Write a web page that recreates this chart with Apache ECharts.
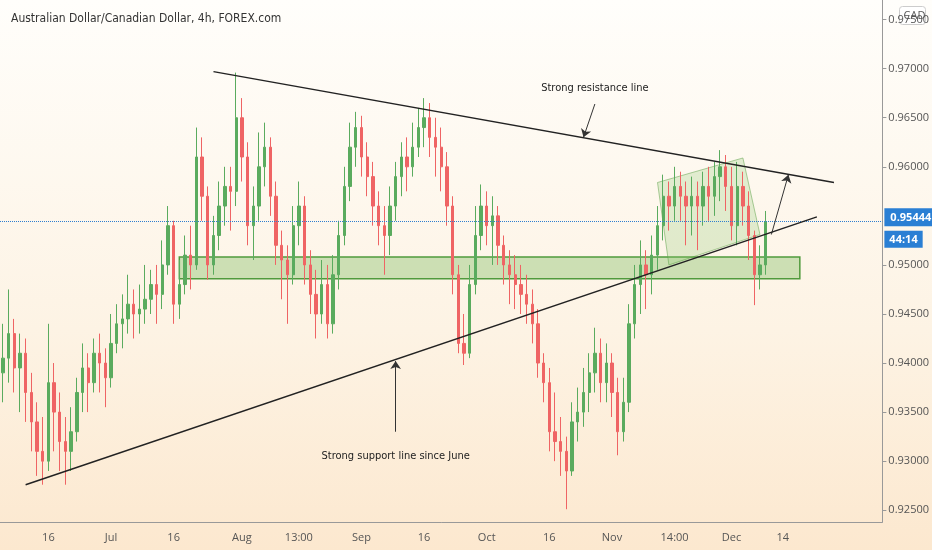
<!DOCTYPE html>
<html>
<head>
<meta charset="utf-8">
<script src="https://cdn.jsdelivr.net/npm/echarts@6/dist/echarts.min.js"></script>
<style>
  html, body { margin: 0; padding: 0; }
  body { background: linear-gradient(180deg, #fffefb 0%, #fdf3e4 60%, #fce8cf 100%); }
  #chart { width: 932px; height: 550px; }
</style>
</head>
<body>
<div id="chart"></div>
<script>
// [open, close, low, high], one candle per trading day from 2020-06-04
var candles = [
  [0.9390, 0.9405, 0.9360, 0.9440], [0.9405, 0.9430, 0.9380, 0.9475], [0.9430, 0.9395, 0.9370, 0.9445], [0.9395, 0.9410, 0.9350, 0.9430],
  [0.9410, 0.9370, 0.9340, 0.9425], [0.9370, 0.9340, 0.9310, 0.9390], [0.9340, 0.9310, 0.9285, 0.9360], [0.9310, 0.9300, 0.9276, 0.9345],
  [0.9300, 0.9380, 0.9290, 0.9440], [0.9380, 0.9350, 0.9310, 0.9400], [0.9350, 0.9320, 0.9290, 0.9370], [0.9320, 0.9310, 0.9276, 0.9345],
  [0.9310, 0.9330, 0.9290, 0.9355], [0.9330, 0.9370, 0.9320, 0.9385], [0.9370, 0.9395, 0.9350, 0.9420], [0.9395, 0.9380, 0.9350, 0.9410],
  [0.9380, 0.9410, 0.9370, 0.9425], [0.9410, 0.9400, 0.9370, 0.9430], [0.9400, 0.9385, 0.9355, 0.9415], [0.9385, 0.9420, 0.9375, 0.9450],
  [0.9420, 0.9440, 0.9410, 0.9460], [0.9440, 0.9445, 0.9415, 0.9470], [0.9445, 0.9460, 0.9430, 0.9490], [0.9460, 0.9450, 0.9425, 0.9475],
  [0.9450, 0.9455, 0.9430, 0.9480], [0.9455, 0.9465, 0.9440, 0.9500], [0.9465, 0.9480, 0.9450, 0.9495], [0.9480, 0.9470, 0.9440, 0.9500],
  [0.9470, 0.9500, 0.9455, 0.9525], [0.9500, 0.9540, 0.9490, 0.9560], [0.9540, 0.9460, 0.9440, 0.9545], [0.9460, 0.9480, 0.9445, 0.9505],
  [0.9480, 0.9510, 0.9470, 0.9530], [0.9510, 0.9500, 0.9475, 0.9540], [0.9500, 0.9610, 0.9495, 0.9640], [0.9610, 0.9570, 0.9545, 0.9630],
  [0.9570, 0.9500, 0.9485, 0.9580], [0.9500, 0.9530, 0.9490, 0.9550], [0.9530, 0.9560, 0.9515, 0.9585], [0.9560, 0.9580, 0.9540, 0.9600],
  [0.9580, 0.9575, 0.9535, 0.9600], [0.9575, 0.9650, 0.9560, 0.9696], [0.9650, 0.9610, 0.9585, 0.9670], [0.9610, 0.9540, 0.9520, 0.9625],
  [0.9540, 0.9560, 0.9505, 0.9580], [0.9560, 0.9600, 0.9545, 0.9635], [0.9600, 0.9620, 0.9580, 0.9645], [0.9620, 0.9570, 0.9550, 0.9630],
  [0.9570, 0.9520, 0.9500, 0.9585], [0.9520, 0.9505, 0.9465, 0.9535], [0.9505, 0.9490, 0.9440, 0.9520], [0.9490, 0.9540, 0.9480, 0.9560],
  [0.9540, 0.9560, 0.9520, 0.9585], [0.9560, 0.9500, 0.9480, 0.9570], [0.9500, 0.9470, 0.9450, 0.9515], [0.9470, 0.9450, 0.9425, 0.9495],
  [0.9450, 0.9480, 0.9440, 0.9505], [0.9480, 0.9440, 0.9425, 0.9500], [0.9440, 0.9490, 0.9430, 0.9510], [0.9490, 0.9530, 0.9475, 0.9545],
  [0.9530, 0.9580, 0.9520, 0.9600], [0.9580, 0.9620, 0.9565, 0.9645], [0.9620, 0.9640, 0.9600, 0.9656], [0.9640, 0.9610, 0.9590, 0.9652],
  [0.9610, 0.9590, 0.9570, 0.9625], [0.9590, 0.9560, 0.9540, 0.9605], [0.9560, 0.9540, 0.9520, 0.9575], [0.9540, 0.9530, 0.9490, 0.9560],
  [0.9530, 0.9560, 0.9510, 0.9580], [0.9560, 0.9590, 0.9545, 0.9605], [0.9590, 0.9610, 0.9570, 0.9625], [0.9610, 0.9600, 0.9575, 0.9630],
  [0.9600, 0.9620, 0.9590, 0.9645], [0.9620, 0.9640, 0.9610, 0.9660], [0.9640, 0.9650, 0.9620, 0.9670], [0.9650, 0.9630, 0.9610, 0.9665],
  [0.9630, 0.9620, 0.9590, 0.9650], [0.9620, 0.9600, 0.9575, 0.9640], [0.9600, 0.9560, 0.9540, 0.9615], [0.9560, 0.9490, 0.9470, 0.9570],
  [0.9490, 0.9420, 0.9410, 0.9500], [0.9420, 0.9410, 0.9398, 0.9450], [0.9410, 0.9480, 0.9405, 0.9500], [0.9480, 0.9530, 0.9470, 0.9560],
  [0.9530, 0.9560, 0.9515, 0.9582], [0.9560, 0.9540, 0.9520, 0.9575], [0.9540, 0.9550, 0.9500, 0.9570], [0.9550, 0.9520, 0.9500, 0.9560],
  [0.9520, 0.9500, 0.9480, 0.9530], [0.9500, 0.9490, 0.9460, 0.9515], [0.9490, 0.9480, 0.9455, 0.9510], [0.9480, 0.9470, 0.9450, 0.9500],
  [0.9470, 0.9460, 0.9440, 0.9490], [0.9460, 0.9440, 0.9420, 0.9475], [0.9440, 0.9400, 0.9385, 0.9455], [0.9400, 0.9380, 0.9360, 0.9410],
  [0.9380, 0.9330, 0.9310, 0.9395], [0.9330, 0.9320, 0.9300, 0.9370], [0.9320, 0.9310, 0.9285, 0.9345], [0.9310, 0.9290, 0.9251, 0.9325],
  [0.9290, 0.9340, 0.9285, 0.9360], [0.9340, 0.9350, 0.9320, 0.9375], [0.9350, 0.9370, 0.9335, 0.9395], [0.9370, 0.9390, 0.9350, 0.9410],
  [0.9390, 0.9410, 0.9370, 0.9436], [0.9410, 0.9380, 0.9360, 0.9425], [0.9380, 0.9400, 0.9360, 0.9420], [0.9400, 0.9370, 0.9345, 0.9410],
  [0.9370, 0.9330, 0.9306, 0.9385], [0.9330, 0.9360, 0.9320, 0.9385], [0.9360, 0.9440, 0.9350, 0.9460], [0.9440, 0.9480, 0.9425, 0.9500],
  [0.9480, 0.9500, 0.9450, 0.9525], [0.9500, 0.9490, 0.9455, 0.9515], [0.9490, 0.9510, 0.9470, 0.9530], [0.9510, 0.9540, 0.9495, 0.9560],
  [0.9540, 0.9570, 0.9525, 0.9592], [0.9570, 0.9560, 0.9535, 0.9585], [0.9560, 0.9580, 0.9545, 0.9600], [0.9580, 0.9570, 0.9545, 0.9595],
  [0.9570, 0.9560, 0.9520, 0.9585], [0.9560, 0.9570, 0.9530, 0.9590], [0.9570, 0.9560, 0.9515, 0.9585], [0.9560, 0.9580, 0.9540, 0.9595],
  [0.9580, 0.9570, 0.9545, 0.9600], [0.9570, 0.9590, 0.9550, 0.9605], [0.9590, 0.9600, 0.9565, 0.9617], [0.9600, 0.9580, 0.9555, 0.9612],
  [0.9580, 0.9540, 0.9525, 0.9600], [0.9540, 0.9580, 0.9520, 0.9605], [0.9580, 0.9560, 0.9540, 0.9595], [0.9560, 0.9530, 0.9505, 0.9575],
  [0.9530, 0.9490, 0.9459, 0.9535], [0.9490, 0.9500, 0.9475, 0.9520], [0.9500, 0.9544, 0.9490, 0.9555]
];

var xTickLabels = {
  '2020-06-16': '16', '2020-07-01': 'Jul', '2020-07-16': '16', '2020-08-03': 'Aug',
  '2020-08-17': '13:00', '2020-09-01': 'Sep', '2020-09-16': '16', '2020-10-01': 'Oct',
  '2020-10-16': '16', '2020-11-02': 'Nov', '2020-11-17': '14:00', '2020-12-01': 'Dec',
  '2020-12-14': '14'
};
var priceTicks = [0.925, 0.930, 0.935, 0.940, 0.945, 0.950, 0.960, 0.965, 0.970, 0.975];
var lastPrice = 0.95444;

// drawings: [categoryIndex, price]
var resistanceLine = [[37, 0.9697], [146, 0.9584]];
var supportLine = [[4, 0.9276], [143, 0.9549]];
var supportZone = [[31, 0.9508], [140, 0.9486]];
var channelBox = [[115.1, 0.9584], [130.1, 0.9609], [132.7, 0.9531], [117.2, 0.9500]];

// trading-day categories incl. empty future slots
var categories = [];
(function () {
  var d = new Date(Date.UTC(2020, 5, 4));
  while (categories.length < 155) {
    var wd = d.getUTCDay();
    if (wd !== 0 && wd !== 6) categories.push(d.toISOString().slice(0, 10));
    d.setUTCDate(d.getUTCDate() + 1);
  }
})();

var chart = echarts.init(document.getElementById('chart'));
var font = 'Open Sans';
var narrow = 'DejaVu Sans Condensed';

function arrow(from, to) {
  return [{ coord: from }, { coord: to }];
}

chart.setOption({
  animation: false,
  backgroundColor: 'transparent',
  title: {
    text: 'Australian Dollar/Canadian Dollar, 4h, FOREX.com',
    left: 6, top: 8,
    textStyle: { fontFamily: narrow, fontSize: 12, fontWeight: 'normal', color: '#333' }
  },
  grid: { left: 0, right: 44, top: 0, bottom: 28 },
  xAxis: {
    type: 'category',
    data: categories,
    boundaryGap: true,
    axisLine: { show: true, lineStyle: { color: '#999' } },
    axisTick: { show: false },
    splitLine: { show: false },
    axisLabel: {
      interval: function (idx, value) { return xTickLabels.hasOwnProperty(value); },
      formatter: function (value) { return xTickLabels[value] || ''; },
      fontFamily: font, fontSize: 11, color: '#555', margin: 10
    }
  },
  yAxis: {
    type: 'value',
    position: 'right',
    min: 0.9238,
    max: 0.9770,
    scale: true,
    axisLine: { show: true, lineStyle: { color: '#999' } },
    axisTick: { show: true, length: 4, lineStyle: { color: '#999' }, customValues: priceTicks },
    splitLine: { show: false },
    axisLabel: {
      customValues: priceTicks,
      formatter: function (v) { return v.toFixed(5); },
      fontFamily: font, fontSize: 11, color: '#555', margin: 6
    }
  },
  series: [
    {
      type: 'candlestick',
      data: candles,
      barMaxWidth: 3,
      itemStyle: {
        color: '#5aab5e', color0: '#ef6464',
        borderColor: '#5aab5e', borderColor0: '#ef6464', borderWidth: 1
      },
      markArea: {
        silent: true,
        itemStyle: { color: 'rgba(130,190,100,0.4)', borderColor: '#4f9a3c', borderWidth: 1.5 },
        data: [[{ coord: supportZone[0] }, { coord: supportZone[1] }]]
      }
    },
    {
      type: 'custom',
      silent: true,
      z: 1,
      data: [0],
      renderItem: function (params, api) {
        return {
          type: 'polygon',
          shape: { points: channelBox.map(function (p) { return api.coord(p); }) },
          style: { fill: 'rgba(140,200,110,0.25)', stroke: 'rgba(90,160,70,0.5)', lineWidth: 1 }
        };
      }
    },
    {
      type: 'line', data: resistanceLine, symbol: 'none', silent: true,
      lineStyle: { color: '#222', width: 1.5 }, z: 5,
      markLine: {
        silent: true,
        symbol: 'none',
        precision: 5,
        lineStyle: { color: '#2f7fd0', type: 'dotted', width: 1 },
        label: {
          position: 'end',
          distance: 2,
          offset: [0, 9],
          formatter: function () { return '{p|' + lastPrice.toFixed(5) + '}\n{t|44:14}'; },
          rich: {
            p: { backgroundColor: '#2a7fd4', color: '#fff', fontFamily: font, fontSize: 11, fontWeight: 'bold', padding: [4, 6, 3, 6] },
            t: { backgroundColor: '#2a7fd4', color: '#fff', fontFamily: font, fontSize: 11, fontWeight: 'bold', padding: [3, 5, 3, 5], lineHeight: 26 }
          }
        },
        data: [{ yAxis: lastPrice }]
      }
    },
    {
      type: 'line', data: supportLine, symbol: 'none', silent: true,
      lineStyle: { color: '#222', width: 1.5 }, z: 5,
      markLine: {
        silent: true,
        symbol: ['none', 'arrow'],
        symbolSize: 8,
        lineStyle: { color: '#333', width: 1, type: 'solid' },
        label: { show: false },
        data: [
          arrow([104, 0.9664], [102, 0.9630]),
          arrow([69, 0.9330], [69, 0.9402]),
          arrow([134.6, 0.9531], [137.5, 0.9592])
        ]
      },
      markPoint: {
        silent: true,
        symbol: 'rect', symbolSize: 0,
        label: { show: true, color: '#222', fontFamily: narrow, fontSize: 11 },
        data: [
          { coord: [104.2, 0.9680], label: { formatter: 'Strong resistance line' } },
          { coord: [69, 0.9305], label: { formatter: 'Strong support line since June' } }
        ]
      }
    }
  ],
  graphic: [
    {
      type: 'group', right: 6, top: 6,
      children: [
        { type: 'rect', shape: { width: 26, height: 18, r: 3 }, style: { fill: '#fff', stroke: '#ccc' } },
        { type: 'text', x: 4, y: 4, style: { text: 'CAD', fill: '#555', font: '11px Open Sans' } }
      ]
    }
  ]
});
</script>
</body>
</html>
